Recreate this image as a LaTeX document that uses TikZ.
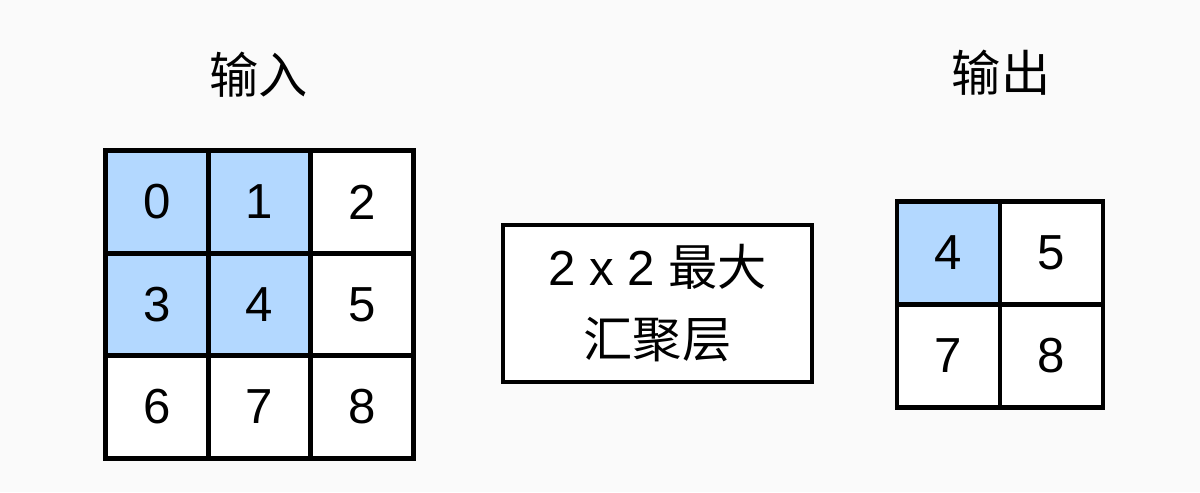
\documentclass[tikz,border=0pt]{standalone}
\usepackage{fontspec}
\setmainfont{Liberation Sans}
\newfontfamily\cjk{Noto Sans CJK SC}
\usetikzlibrary{positioning}
\definecolor{cblue}{RGB}{179,216,255}
\definecolor{cback}{RGB}{250,250,250}

\begin{document}
\begin{tikzpicture}[node distance=0pt,line width=2.8pt,
  cell node/.style={rectangle,draw,fill=white,minimum size=2.05cm,inner sep=0pt,outer sep=0pt,font=\fontsize{28}{35}\selectfont},
  hot node/.style={cell node,fill=cblue},
  out node/.style={cell node,minimum size=2.06cm},
  pool node/.style={rectangle,draw,fill=white,minimum width=6.18cm,minimum height=3.14cm,align=center,font=\fontsize{28}{41}\selectfont},
  title node/.style={font=\fontsize{28}{35}\selectfont\cjk}]
  \fill[cback] (0,0) rectangle (24,-9.84);
  \useasboundingbox (0,0) rectangle (24,-9.84);

  % input
  \node[hot node] (i0) at (3.14,-4.04) {0};
  \node[hot node] (i1) [right=of i0] {1};
  \node[cell node] (i2) [right=of i1] {2};
  \node[hot node] (i3) [below=of i0] {3};
  \node[hot node] (i4) [right=of i3] {4};
  \node[cell node] (i5) [right=of i4] {5};
  \node[cell node] (i6) [below=of i3] {6};
  \node[cell node] (i7) [right=of i6] {7};
  \node[cell node] (i8) [right=of i7] {8};
  \node[title node] (intitle) at (5.17,-1.5) {输入};

  % pooling
  \node[pool node] (pool) at (13.15,-6.07) {2 x 2 {\cjk 最大}\\{\cjk 汇聚层}};

  % output
  \node[out node,fill=cblue] (o4) at (18.97,-5.06) {4};
  \node[out node] (o5) [right=of o4] {5};
  \node[out node] (o7) [below=of o4] {7};
  \node[out node] (o8) [right=of o7] {8};
  \node[title node] (outtitle) at (20.02,-1.46) {输出};
\end{tikzpicture}
\end{document}
